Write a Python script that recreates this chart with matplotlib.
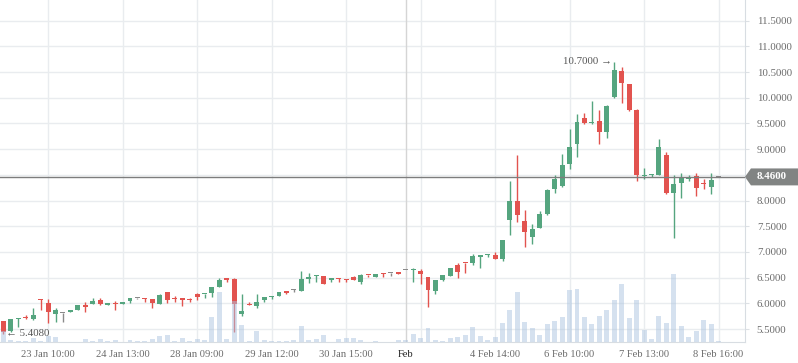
import matplotlib
matplotlib.use('Agg')
import matplotlib.pyplot as plt
from matplotlib.patches import Polygon
from matplotlib.transforms import blended_transform_factory

# candle data (one entry per bar)
opens = [5.66, 5.46, 5.70, 5.74, 5.695, 6.08, 6.00, 5.80, 5.805, 5.84,
         5.875, 5.965, 5.99, 6.065, 5.967, 6.00, 5.99, 6.045, 6.10, 6.10,
         6.085, 5.99, 6.22, 6.10, 6.10, 6.07, 6.175, 6.18, 6.21, 6.31,
         6.487, 6.47, 5.80, 5.97, 5.95, 6.065, 6.13, 6.14, 6.22, 6.253,
         6.23, 6.48, 6.53, 6.53, 6.455, 6.49, 6.47, 6.52, 6.41, 6.56,
         6.51, 6.58, 6.584, 6.59, 6.64, 6.655, 6.63, 6.51, 6.23, 6.455,
         6.53, 6.75, 6.79, 6.79, 6.91, 6.935, 6.94, 6.86, 7.62, 7.99,
         7.60, 7.30, 7.46, 7.74, 8.225, 8.29, 8.705, 9.095, 9.60, 9.515,
         9.55, 9.34, 10.01, 10.52, 10.27, 9.76, 8.48, 8.50, 8.50, 8.89,
         8.155, 8.335, 8.425, 8.48, 8.34, 8.264, 8.46]
highs = [5.66, 5.70, 5.72, 5.77, 5.915, 6.085, 6.08, 5.915, 5.81, 5.87,
         5.965, 6.025, 6.11, 6.11, 6.00, 6.045, 6.02, 6.11, 6.10, 6.10,
         6.085, 6.18, 6.22, 6.148, 6.10, 6.11, 6.21, 6.19, 6.31, 6.487,
         6.49, 6.487, 6.175, 6.025, 6.18, 6.12, 6.14, 6.22, 6.22, 6.28,
         6.63, 6.596, 6.545, 6.53, 6.49, 6.49, 6.47, 6.537, 6.576, 6.56,
         6.57, 6.59, 6.584, 6.59, 6.64, 6.687, 6.668, 6.51, 6.455, 6.545,
         6.687, 6.79, 6.79, 6.96, 6.94, 6.96, 7.00, 7.23, 8.386, 8.886,
         7.81, 7.54, 7.80, 8.225, 8.497, 8.906, 9.39, 9.684, 9.698, 9.94,
         9.76, 9.86, 10.70, 10.59, 10.27, 9.79, 8.64, 8.51, 9.19, 8.95,
         8.497, 8.53, 8.497, 8.53, 8.41, 8.53, 8.46]
lows = [5.408, 5.44, 5.54, 5.70, 5.675, 5.87, 5.62, 5.64, 5.64, 5.84,
        5.875, 5.825, 5.99, 5.967, 5.967, 5.87, 5.99, 6.00, 6.085, 6.02,
        5.915, 5.99, 6.01, 6.03, 5.95, 6.025, 6.07, 6.11, 6.12, 6.31,
        6.41, 5.45, 5.76, 5.96, 5.915, 6.03, 6.08, 6.14, 6.19, 6.22,
        6.23, 6.39, 6.42, 6.38, 6.41, 6.41, 6.41, 6.455, 6.376, 6.506,
        6.51, 6.52, 6.525, 6.565, 6.64, 6.42, 6.37, 5.93, 6.175, 6.43,
        6.53, 6.50, 6.596, 6.75, 6.69, 6.91, 6.86, 6.83, 7.33, 7.59,
        7.10, 7.15, 7.46, 7.72, 8.15, 8.26, 8.62, 8.84, 9.49, 9.49,
        9.10, 9.22, 10.00, 9.89, 9.75, 8.386, 8.41, 8.465, 8.50, 8.12,
        7.28, 8.04, 8.386, 8.094, 8.23, 8.12, 8.46]
closes = [5.45, 5.695, 5.71, 5.71, 5.77, 6.07, 5.84, 5.87, 5.805, 5.87,
          5.965, 5.935, 6.045, 5.985, 6.00, 5.98, 6.02, 6.11, 6.10, 6.09,
          6.01, 6.16, 6.07, 6.09, 6.07, 6.06, 6.12, 6.19, 6.31, 6.45,
          6.455, 5.99, 5.85, 5.96, 6.03, 6.12, 6.14, 6.22, 6.21, 6.253,
          6.47, 6.52, 6.54, 6.38, 6.49, 6.48, 6.46, 6.455, 6.55, 6.55,
          6.57, 6.57, 6.584, 6.58, 6.64, 6.665, 6.58, 6.26, 6.455, 6.545,
          6.687, 6.60, 6.78, 6.92, 6.94, 6.945, 6.87, 7.23, 7.99, 7.71,
          7.39, 7.45, 7.74, 8.21, 8.42, 8.69, 9.04, 9.52, 9.515, 9.525,
          9.34, 9.84, 10.55, 10.29, 9.76, 8.50, 8.49, 8.51, 9.05, 8.155,
          8.32, 8.45, 8.435, 8.25, 8.33, 8.40, 8.46]
volume = [107, 23, 7, 13, 40, 13, 63, 47, 0, 0,
          0, 33, 13, 33, 7, 23, 0, 23, 7, 13,
          33, 57, 73, 13, 40, 13, 33, 23, 247, 497,
          33, 413, 173, 7, 107, 23, 5, 10, 10, 20,
          160, 20, 30, 70, 3, 30, 40, 40, 20, 3,
          10, 3, 0, 20, 20, 80, 40, 140, 20, 10,
          40, 50, 70, 150, 60, 20, 50, 190, 320, 500,
          200, 137, 70, 180, 210, 247, 520, 527, 247, 180,
          260, 320, 420, 580, 237, 420, 120, 30, 260, 187,
          680, 160, 53, 110, 220, 180, 10]

tick_pos = [6, 16, 26, 36, 46, 54, 66, 76, 86, 96]
tick_labels = ['23 Jan 10:00', '24 Jan 13:00', '28 Jan 09:00', '29 Jan 12:00',
               '30 Jan 15:00', 'Feb', '4 Feb 14:00', '6 Feb 10:00',
               '7 Feb 13:00', '8 Feb 16:00']
grid_pos = [6, 16, 26, 36, 46, 56, 66, 76, 86, 96]
month_pos = 54
y_ticks = [5.5, 6.0, 6.5, 7.0, 7.5, 8.0, 8.5, 9.0, 9.5, 10.0, 10.5, 11.0, 11.5]
last_price = 8.46
max_price = 10.70
min_price = 5.408

up_col = '#55a57f'
down_col = '#e2534f'
flat_col = '#8a8a8a'
grid_col = '#e9ecef'
text_col = '#6b6b6b'
serif = ['Liberation Serif', 'DejaVu Serif']

W, H = 798, 363
fig = plt.figure(figsize=(W / 100, H / 100), dpi=100)
rect = [0, 21 / H, 745 / W, 342 / H]
ax = fig.add_axes(rect)

n = len(closes)
for i in range(n):
    o, h, l, c = opens[i], highs[i], lows[i], closes[i]
    if c > o:
        col = up_col
    elif c < o:
        col = down_col
    else:
        col = flat_col
    ax.vlines(i, l, h, color=col, linewidth=1.0, zorder=3)
    body = max(abs(c - o), 0.02)
    ax.bar(i, body, bottom=min(o, c), width=0.66, color=col, zorder=4,
           linewidth=0)

ax.set_xlim(-0.45, 99.55)
ax.set_ylim(5.247, 11.903)

ax.set_yticks(y_ticks)
ax.set_yticklabels(['%.4f' % v for v in y_ticks], family=serif, fontsize=7.8,
                   color=text_col)
ax.yaxis.tick_right()
ax.tick_params(axis='y', length=3, color='#dde1e5', pad=5.5)
ax.set_xticks(tick_pos)
ax.set_xticklabels(tick_labels, family=serif, fontsize=7.6, color=text_col)
ax.tick_params(axis='x', length=0, pad=6)
for lab in ax.get_xticklabels():
    if lab.get_text() == 'Feb':
        lab.set_color('#222222')

ax.grid(False)
for v in y_ticks:
    ax.axhline(v, color=grid_col, linewidth=1, zorder=0)
for p in grid_pos:
    ax.axvline(p, color=grid_col, linewidth=1, zorder=0)
ax.axvline(month_pos, color='#d5d5d5', linewidth=1, zorder=0)

for s in ['top', 'left']:
    ax.spines[s].set_visible(False)
for s in ['right', 'bottom']:
    ax.spines[s].set_color('#d8dde2')

# last price line and tag
ax.axhline(last_price, color='#7d7d7d', linewidth=1, zorder=5)
tr = blended_transform_factory(ax.transAxes, ax.transData)
hh = 0.165
tag = Polygon([(1.0, last_price), (1.008, last_price + hh), (1.075, last_price + hh),
               (1.075, last_price - hh), (1.008, last_price - hh)],
              closed=True, transform=tr, facecolor='#818483', edgecolor='none',
              clip_on=False, zorder=6)
ax.add_patch(tag)
ax.text(1.016, last_price, '%.4f' % last_price, transform=tr, ha='left',
        va='center', family=serif, fontsize=7.8, color='white',
        fontweight='bold', zorder=7)

# high / low markers
imax = highs.index(max_price)
imin = lows.index(min_price)
ax.annotate('%.4f \u2192' % max_price, xy=(imax, max_price), xytext=(-2, 0),
            textcoords='offset pixels', ha='right', va='center', family=serif,
            fontsize=7.8, color='#555555', zorder=6)
ax.annotate('\u2190 %.4f' % min_price, xy=(imin, min_price), xytext=(3, 0),
            textcoords='offset pixels', ha='left', va='center', family=serif,
            fontsize=7.8, color='#555555', zorder=6)

# volume overlay
axv = fig.add_axes(rect, sharex=ax)
axv.patch.set_visible(False)
axv.bar(range(n), volume, width=0.66, color='#adc5e1', alpha=0.5, linewidth=0)
axv.set_ylim(0, max(volume) / 0.199)
axv.axis('off')

fig.savefig('out.png', dpi=100)
